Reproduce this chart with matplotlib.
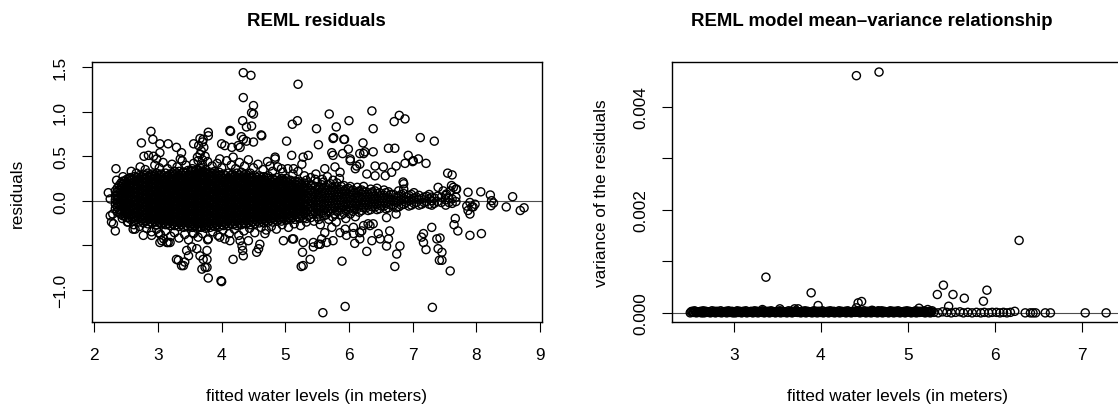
import matplotlib
matplotlib.use("Agg")
import matplotlib.pyplot as plt

plt.rcParams['font.family'] = ['Liberation Sans', 'DejaVu Sans']

##### Left panel: residuals vs fitted water levels

# dense core, one column per fitted value: (x, [residuals])
core_cols = [
    (2.33, [-0.09, -0.04, 0.01, 0.05, 0.11]),
    (2.39, [-0.14, -0.10, -0.05, -0.01, 0.03, 0.08, 0.12, 0.17]),
    (2.45, [-0.17, -0.12, -0.08, -0.03, 0.01, 0.05, 0.10, 0.14, 0.19, 0.22]),
    (2.51, [-0.19, -0.15, -0.10, -0.06, -0.02, 0.02, 0.07, 0.11, 0.15, 0.20, 0.24]),
    (2.57, [-0.21, -0.16, -0.12, -0.07, -0.03, 0.01, 0.06, 0.10, 0.14, 0.19, 0.23, 0.26]),
    (2.63, [-0.22, -0.18, -0.13, -0.09, -0.04, 0.00, 0.04, 0.09, 0.13, 0.17, 0.22, 0.27]),
    (2.70, [-0.24, -0.19, -0.15, -0.10, -0.06, -0.01, 0.03, 0.07, 0.12, 0.16, 0.21, 0.25, 0.28]),
    (2.77, [-0.25, -0.20, -0.16, -0.11, -0.07, -0.02, 0.02, 0.06, 0.11, 0.15, 0.19, 0.24, 0.29]),
    (2.84, [-0.26, -0.21, -0.17, -0.12, -0.08, -0.03, 0.01, 0.05, 0.10, 0.14, 0.18, 0.23, 0.27, 0.31]),
    (2.91, [-0.25, -0.21, -0.16, -0.12, -0.07, -0.03, 0.02, 0.06, 0.10, 0.15, 0.19, 0.24, 0.28, 0.30]),
    (2.98, [-0.27, -0.22, -0.18, -0.13, -0.09, -0.04, 0.00, 0.05, 0.09, 0.13, 0.18, 0.22, 0.26, 0.31]),
    (3.05, [-0.26, -0.22, -0.17, -0.13, -0.08, -0.04, 0.01, 0.05, 0.10, 0.14, 0.18, 0.23, 0.27, 0.30]),
    (3.12, [-0.27, -0.23, -0.18, -0.14, -0.09, -0.05, 0.00, 0.04, 0.08, 0.13, 0.17, 0.21, 0.26, 0.31]),
    (3.19, [-0.28, -0.23, -0.19, -0.14, -0.10, -0.05, -0.01, 0.03, 0.08, 0.12, 0.17, 0.21, 0.25, 0.30]),
    (3.26, [-0.28, -0.24, -0.19, -0.15, -0.10, -0.06, -0.01, 0.03, 0.07, 0.12, 0.16, 0.20, 0.25, 0.29, 0.33]),
    (3.33, [-0.29, -0.25, -0.20, -0.16, -0.11, -0.07, -0.02, 0.02, 0.07, 0.11, 0.16, 0.20, 0.24, 0.29, 0.33]),
    (3.40, [-0.30, -0.25, -0.21, -0.16, -0.12, -0.07, -0.03, 0.02, 0.06, 0.10, 0.15, 0.19, 0.24, 0.28, 0.32]),
    (3.47, [-0.29, -0.25, -0.20, -0.16, -0.11, -0.07, -0.02, 0.02, 0.07, 0.11, 0.15, 0.20, 0.24, 0.29, 0.34]),
    (3.54, [-0.30, -0.26, -0.21, -0.17, -0.12, -0.08, -0.03, 0.01, 0.06, 0.10, 0.15, 0.19, 0.23, 0.28, 0.33, 0.36]),
    (3.61, [-0.31, -0.26, -0.22, -0.17, -0.13, -0.08, -0.04, 0.01, 0.05, 0.09, 0.14, 0.18, 0.23, 0.27, 0.31, 0.35]),
    (3.68, [-0.30, -0.26, -0.21, -0.17, -0.12, -0.08, -0.03, 0.01, 0.06, 0.10, 0.14, 0.19, 0.23, 0.28, 0.32, 0.36]),
    (3.75, [-0.31, -0.27, -0.22, -0.18, -0.13, -0.09, -0.04, 0.00, 0.05, 0.09, 0.13, 0.18, 0.22, 0.27, 0.31, 0.35]),
    (3.82, [-0.30, -0.26, -0.21, -0.17, -0.12, -0.08, -0.03, 0.01, 0.06, 0.10, 0.14, 0.19, 0.23, 0.28, 0.32]),
    (3.89, [-0.29, -0.25, -0.20, -0.16, -0.11, -0.07, -0.02, 0.02, 0.07, 0.11, 0.15, 0.20, 0.24, 0.29, 0.33]),
    (3.96, [-0.29, -0.24, -0.20, -0.15, -0.11, -0.06, -0.02, 0.03, 0.07, 0.12, 0.16, 0.20, 0.25, 0.29, 0.32]),
    (4.03, [-0.28, -0.24, -0.19, -0.15, -0.10, -0.06, -0.01, 0.03, 0.08, 0.12, 0.16, 0.21, 0.25, 0.30]),
    (4.10, [-0.28, -0.23, -0.19, -0.14, -0.10, -0.05, -0.01, 0.04, 0.08, 0.12, 0.17, 0.21, 0.26, 0.31]),
    (4.17, [-0.27, -0.23, -0.18, -0.14, -0.09, -0.05, 0.00, 0.04, 0.09, 0.13, 0.17, 0.22, 0.26, 0.30]),
    (4.24, [-0.28, -0.23, -0.19, -0.14, -0.10, -0.05, -0.01, 0.04, 0.08, 0.13, 0.17, 0.21, 0.26, 0.31]),
    (4.31, [-0.27, -0.22, -0.18, -0.13, -0.09, -0.04, 0.00, 0.05, 0.09, 0.13, 0.18, 0.22, 0.27, 0.32]),
    (4.38, [-0.26, -0.22, -0.17, -0.13, -0.08, -0.04, 0.01, 0.05, 0.09, 0.14, 0.18, 0.23, 0.27, 0.30]),
    (4.45, [-0.27, -0.22, -0.18, -0.13, -0.09, -0.04, 0.00, 0.04, 0.09, 0.13, 0.18, 0.22, 0.26, 0.31]),
    (4.52, [-0.26, -0.21, -0.17, -0.12, -0.08, -0.03, 0.01, 0.05, 0.10, 0.14, 0.19, 0.23, 0.28]),
    (4.59, [-0.25, -0.21, -0.16, -0.12, -0.07, -0.03, 0.02, 0.06, 0.10, 0.15, 0.19, 0.24, 0.28]),
    (4.66, [-0.25, -0.20, -0.16, -0.11, -0.07, -0.02, 0.02, 0.07, 0.11, 0.15, 0.20, 0.24, 0.27]),
    (4.73, [-0.24, -0.20, -0.15, -0.11, -0.06, -0.02, 0.03, 0.07, 0.11, 0.16, 0.20, 0.25, 0.28]),
    (4.80, [-0.24, -0.19, -0.15, -0.10, -0.06, -0.01, 0.03, 0.07, 0.12, 0.16, 0.21, 0.25]),
    (4.87, [-0.23, -0.19, -0.14, -0.10, -0.05, -0.01, 0.04, 0.08, 0.12, 0.17, 0.21, 0.26]),
    (4.94, [-0.23, -0.18, -0.14, -0.09, -0.05, 0.00, 0.04, 0.08, 0.13, 0.17, 0.22, 0.25]),
    (5.01, [-0.22, -0.18, -0.13, -0.09, -0.04, 0.00, 0.05, 0.09, 0.13, 0.18, 0.22, 0.25]),
    (5.08, [-0.21, -0.17, -0.12, -0.08, -0.04, 0.01, 0.05, 0.09, 0.14, 0.18, 0.23]),
    (5.15, [-0.21, -0.16, -0.12, -0.07, -0.03, 0.01, 0.06, 0.10, 0.14, 0.19, 0.22]),
    (5.22, [-0.20, -0.15, -0.11, -0.07, -0.02, 0.02, 0.06, 0.10, 0.15, 0.19, 0.22]),
    (5.29, [-0.19, -0.14, -0.10, -0.06, -0.02, 0.03, 0.07, 0.11, 0.15, 0.20]),
]

# more of the core, lying between the columns above
core_cols_2 = [
    (2.36, [-0.12, -0.07, -0.03, 0.01, 0.06, 0.10, 0.14]),
    (2.42, [-0.15, -0.11, -0.06, -0.02, 0.03, 0.07, 0.12, 0.16, 0.20]),
    (2.48, [-0.17, -0.13, -0.08, -0.04, 0.00, 0.05, 0.09, 0.13, 0.17, 0.22]),
    (2.54, [-0.19, -0.14, -0.10, -0.05, -0.01, 0.04, 0.08, 0.12, 0.17, 0.21, 0.25]),
    (2.60, [-0.20, -0.16, -0.11, -0.07, -0.02, 0.02, 0.07, 0.11, 0.16, 0.20, 0.24]),
    (2.67, [-0.21, -0.17, -0.12, -0.08, -0.03, 0.01, 0.06, 0.10, 0.15, 0.19, 0.23, 0.26]),
    (2.74, [-0.22, -0.18, -0.13, -0.09, -0.04, 0.00, 0.05, 0.09, 0.13, 0.18, 0.22, 0.27]),
    (2.81, [-0.23, -0.19, -0.14, -0.10, -0.05, -0.01, 0.04, 0.08, 0.12, 0.17, 0.21, 0.25, 0.29]),
    (2.88, [-0.24, -0.19, -0.15, -0.10, -0.06, -0.01, 0.03, 0.08, 0.12, 0.17, 0.21, 0.26, 0.29]),
    (2.95, [-0.24, -0.20, -0.15, -0.11, -0.06, -0.02, 0.03, 0.07, 0.12, 0.16, 0.20, 0.25, 0.29]),
    (3.02, [-0.25, -0.20, -0.16, -0.11, -0.07, -0.02, 0.02, 0.07, 0.11, 0.16, 0.20, 0.24, 0.29]),
    (3.09, [-0.25, -0.21, -0.16, -0.12, -0.07, -0.03, 0.02, 0.06, 0.11, 0.15, 0.19, 0.24, 0.28]),
    (3.16, [-0.26, -0.21, -0.17, -0.12, -0.08, -0.03, 0.01, 0.06, 0.10, 0.15, 0.19, 0.23, 0.28]),
    (3.23, [-0.26, -0.22, -0.17, -0.13, -0.08, -0.04, 0.01, 0.05, 0.10, 0.14, 0.18, 0.23, 0.27, 0.31]),
    (3.30, [-0.27, -0.22, -0.18, -0.13, -0.09, -0.04, 0.00, 0.05, 0.09, 0.14, 0.18, 0.22, 0.27, 0.31]),
    (3.37, [-0.27, -0.23, -0.18, -0.14, -0.09, -0.05, 0.00, 0.04, 0.09, 0.13, 0.17, 0.22, 0.26, 0.30]),
    (3.44, [-0.28, -0.23, -0.19, -0.14, -0.10, -0.05, -0.01, 0.04, 0.08, 0.13, 0.17, 0.21, 0.26, 0.31]),
    (3.51, [-0.28, -0.24, -0.19, -0.15, -0.10, -0.06, -0.01, 0.03, 0.08, 0.12, 0.17, 0.21, 0.25, 0.30, 0.34]),
    (3.58, [-0.29, -0.24, -0.20, -0.15, -0.11, -0.06, -0.02, 0.03, 0.07, 0.12, 0.16, 0.21, 0.25, 0.29, 0.33]),
    (3.65, [-0.29, -0.24, -0.20, -0.15, -0.11, -0.06, -0.02, 0.03, 0.07, 0.12, 0.16, 0.21, 0.25, 0.30, 0.34]),
    (3.72, [-0.29, -0.25, -0.20, -0.16, -0.11, -0.07, -0.02, 0.02, 0.07, 0.11, 0.16, 0.20, 0.25, 0.29, 0.33]),
    (3.79, [-0.28, -0.24, -0.19, -0.15, -0.10, -0.06, -0.01, 0.03, 0.08, 0.12, 0.17, 0.21, 0.25, 0.30]),
    (3.86, [-0.28, -0.23, -0.19, -0.14, -0.10, -0.05, -0.01, 0.04, 0.08, 0.13, 0.17, 0.22, 0.26, 0.31]),
    (3.93, [-0.27, -0.23, -0.18, -0.14, -0.09, -0.05, 0.00, 0.04, 0.09, 0.13, 0.18, 0.22, 0.27, 0.30]),
    (4.00, [-0.27, -0.22, -0.18, -0.13, -0.09, -0.04, 0.00, 0.05, 0.09, 0.14, 0.18, 0.23, 0.27]),
    (4.07, [-0.26, -0.22, -0.17, -0.13, -0.08, -0.04, 0.01, 0.05, 0.10, 0.14, 0.19, 0.23, 0.28]),
    (4.14, [-0.26, -0.21, -0.17, -0.12, -0.08, -0.03, 0.01, 0.06, 0.10, 0.15, 0.19, 0.24, 0.28]),
    (4.21, [-0.26, -0.21, -0.17, -0.12, -0.08, -0.03, 0.01, 0.06, 0.10, 0.15, 0.19, 0.24, 0.28]),
    (4.28, [-0.25, -0.21, -0.16, -0.12, -0.07, -0.03, 0.02, 0.06, 0.11, 0.15, 0.20, 0.24, 0.29]),
    (4.35, [-0.25, -0.20, -0.16, -0.11, -0.07, -0.02, 0.02, 0.07, 0.11, 0.16, 0.20, 0.25, 0.29]),
    (4.42, [-0.25, -0.20, -0.16, -0.11, -0.07, -0.02, 0.02, 0.07, 0.11, 0.16, 0.20, 0.24, 0.28]),
    (4.49, [-0.24, -0.19, -0.15, -0.10, -0.06, -0.01, 0.03, 0.08, 0.12, 0.17, 0.21, 0.26]),
    (4.56, [-0.23, -0.19, -0.14, -0.10, -0.05, -0.01, 0.04, 0.08, 0.13, 0.17, 0.21, 0.26]),
    (4.63, [-0.23, -0.18, -0.14, -0.09, -0.05, 0.00, 0.04, 0.09, 0.13, 0.18, 0.22, 0.26]),
    (4.70, [-0.22, -0.18, -0.13, -0.09, -0.04, 0.00, 0.05, 0.09, 0.14, 0.18, 0.22, 0.26]),
    (4.77, [-0.22, -0.17, -0.13, -0.08, -0.04, 0.01, 0.05, 0.10, 0.14, 0.18, 0.23]),
    (4.84, [-0.21, -0.17, -0.12, -0.08, -0.03, 0.01, 0.06, 0.10, 0.14, 0.19, 0.23]),
    (4.91, [-0.21, -0.16, -0.12, -0.07, -0.03, 0.02, 0.06, 0.10, 0.15, 0.19, 0.23]),
    (4.98, [-0.20, -0.16, -0.11, -0.07, -0.02, 0.02, 0.07, 0.11, 0.15, 0.20, 0.23]),
    (5.05, [-0.19, -0.15, -0.10, -0.06, -0.02, 0.03, 0.07, 0.11, 0.16, 0.20]),
    (5.12, [-0.19, -0.14, -0.10, -0.05, -0.01, 0.03, 0.08, 0.12, 0.16, 0.20]),
    (5.19, [-0.18, -0.13, -0.09, -0.05, 0.00, 0.04, 0.08, 0.13, 0.17, 0.21]),
    (5.26, [-0.17, -0.12, -0.08, -0.04, 0.01, 0.05, 0.09, 0.13, 0.18]),
]

# thinning band towards high water levels
tail_cols = [
    (5.36, [-0.17, -0.10, -0.04, 0.02, 0.08, 0.14, 0.20]),
    (5.43, [-0.15, -0.08, -0.02, 0.04, 0.10, 0.17]),
    (5.50, [-0.18, -0.11, -0.05, 0.01, 0.07, 0.13, 0.21]),
    (5.57, [-0.14, -0.07, -0.01, 0.05, 0.11, 0.18]),
    (5.64, [-0.16, -0.09, -0.03, 0.03, 0.09, 0.15]),
    (5.71, [-0.12, -0.06, 0.00, 0.06, 0.12, 0.19]),
    (5.78, [-0.15, -0.08, -0.02, 0.04, 0.10, 0.16]),
    (5.85, [-0.11, -0.05, 0.01, 0.07, 0.13]),
    (5.92, [-0.14, -0.07, -0.01, 0.05, 0.11, 0.17]),
    (5.99, [-0.10, -0.04, 0.02, 0.08, 0.14]),
    (6.06, [-0.12, -0.06, 0.00, 0.06, 0.12]),
    (6.13, [-0.09, -0.03, 0.03, 0.09, 0.15]),
    (6.20, [-0.11, -0.05, 0.01, 0.07, 0.12]),
    (6.27, [-0.08, -0.02, 0.04, 0.10]),
    (6.34, [-0.10, -0.04, 0.02, 0.08, 0.13]),
    (6.41, [-0.07, -0.01, 0.05, 0.11]),
    (6.48, [-0.09, -0.03, 0.03, 0.09]),
    (6.55, [-0.06, 0.00, 0.06, 0.12]),
    (6.62, [-0.08, -0.02, 0.04, 0.10]),
    (6.70, [-0.05, 0.01, 0.07]),
    (6.78, [-0.07, -0.01, 0.05, 0.11]),
    (6.86, [-0.04, 0.02, 0.08]),
    (6.94, [-0.06, 0.00, 0.06]),
    (7.02, [-0.03, 0.03, 0.09]),
    (7.10, [-0.05, 0.01, 0.06]),
    (7.18, [-0.02, 0.04]),
    (7.26, [-0.04, 0.02, 0.07]),
    (7.34, [-0.03, 0.03]),
    (7.45, [-0.02, 0.04]),
    (7.52, [-0.05, 0.01, 0.06]),
    (7.62, [-0.03, 0.02]),
]

tail_cols_2 = [
    (5.33, [-0.20, -0.13, -0.07, -0.01, 0.05, 0.11, 0.17, 0.23]),
    (5.40, [-0.19, -0.12, -0.06, 0.00, 0.06, 0.12, 0.18]),
    (5.47, [-0.13, -0.07, -0.01, 0.04, 0.10, 0.16, 0.24]),
    (5.53, [-0.21, -0.15, -0.08, -0.02, 0.04, 0.09, 0.15]),
    (5.60, [-0.17, -0.11, -0.04, 0.02, 0.08, 0.14, 0.21]),
    (5.67, [-0.12, -0.06, 0.00, 0.06, 0.12, 0.18]),
    (5.74, [-0.18, -0.09, -0.03, 0.03, 0.09, 0.15]),
    (5.81, [-0.12, -0.05, 0.01, 0.07, 0.13, 0.20]),
    (5.88, [-0.16, -0.08, -0.02, 0.04, 0.10, 0.16]),
    (5.95, [-0.11, -0.04, 0.02, 0.08, 0.13]),
    (6.02, [-0.15, -0.08, -0.02, 0.04, 0.10, 0.16]),
    (6.09, [-0.09, -0.03, 0.03, 0.09]),
    (6.16, [-0.13, -0.06, 0.00, 0.05, 0.11]),
    (6.23, [-0.08, -0.02, 0.04, 0.10, 0.16]),
    (6.30, [-0.11, -0.05, 0.01, 0.07]),
    (6.37, [-0.07, -0.01, 0.05, 0.10]),
    (6.44, [-0.10, -0.04, 0.02, 0.08, 0.14]),
    (6.51, [-0.06, 0.00, 0.06]),
    (6.58, [-0.09, -0.03, 0.03, 0.09]),
    (6.66, [-0.05, 0.01, 0.07]),
    (6.74, [-0.08, -0.02, 0.04]),
    (6.82, [-0.05, 0.01, 0.07]),
    (6.90, [-0.02, 0.04]),
    (6.98, [-0.05, 0.01, 0.07]),
    (7.06, [-0.02, 0.04]),
    (7.14, [-0.04, 0.02]),
    (7.22, [-0.01, 0.05]),
    (7.30, [-0.05, 0.00, 0.04]),
    (7.39, [-0.01, 0.05]),
    (7.57, [-0.02, 0.03]),
    (7.68, [-0.01, 0.04]),
]

# points scattered just outside the core
fringe_pts = [
    (2.45, 0.27), (2.58, 0.33), (2.66, 0.31), (2.72, 0.38), (2.80, 0.35), (2.95, 0.40),
    (3.02, 0.37), (3.08, 0.43), (3.15, 0.36), (3.22, 0.41), (3.30, 0.38), (3.38, 0.45),
    (3.44, 0.40), (3.56, 0.42), (3.62, 0.49), (3.70, 0.40), (3.78, 0.44), (3.85, 0.39),
    (3.93, 0.42), (4.00, 0.37), (4.08, 0.45), (4.15, 0.40), (4.22, 0.36), (4.28, 0.43),
    (4.36, 0.39), (4.42, 0.46), (4.50, 0.37), (4.57, 0.41), (4.65, 0.35), (4.72, 0.44),
    (4.80, 0.33), (4.88, 0.38), (4.96, 0.32), (5.04, 0.36), (5.12, 0.30), (5.20, 0.33),
    (5.30, 0.28), (5.40, 0.26), (5.48, 0.30), (5.58, 0.24), (5.66, 0.27), (5.75, 0.23),
    (5.85, 0.25),
    (2.44, -0.20), (2.52, -0.24), (2.62, -0.27), (2.71, -0.29), (2.82, -0.31), (2.90, -0.35),
    (2.98, -0.32), (3.04, -0.38), (3.12, -0.34), (3.20, -0.40), (3.26, -0.36), (3.33, -0.42),
    (3.42, -0.38), (3.48, -0.44), (3.55, -0.36), (3.63, -0.41), (3.70, -0.37), (3.78, -0.44),
    (3.86, -0.35), (3.94, -0.39), (4.02, -0.33), (4.12, -0.37), (4.20, -0.32), (4.27, -0.39),
    (4.35, -0.34), (4.44, -0.31), (4.52, -0.36), (4.62, -0.30), (4.70, -0.33), (4.78, -0.29),
    (4.86, -0.32), (4.95, -0.27), (5.05, -0.30), (5.14, -0.26), (5.24, -0.28), (5.33, -0.24),
    (5.45, -0.23), (5.55, -0.27), (5.68, -0.21), (5.80, -0.24), (5.95, -0.20), (6.10, -0.18),
]

# large positive residuals
upper_pts = [
    (2.89, 0.78), (2.74, 0.65), (2.92, 0.69), (2.78, 0.50), (2.85, 0.51), (2.93, 0.50),
    (3.03, 0.64), (3.16, 0.64), (3.29, 0.60), (3.37, 0.54), (3.35, 0.47), (3.03, 0.54),
    (2.98, 0.47), (2.34, 0.36), (2.35, 0.23), (2.22, 0.09), (2.25, 0.02),
    (3.63, 0.45), (3.71, 0.69), (3.66, 0.70), (3.70, 0.66), (3.64, 0.62), (3.72, 0.60),
    (3.68, 0.56), (3.66, 0.52), (3.74, 0.50), (3.70, 0.46), (3.79, 0.77), (3.56, 0.64),
    (3.79, 0.73),
    (4.34, 1.44), (4.46, 1.41), (5.20, 1.31), (4.34, 1.16), (4.50, 1.07), (4.47, 0.99),
    (4.33, 0.90), (4.47, 0.84), (4.62, 0.74), (4.50, 0.66), (4.34, 0.69), (4.29, 0.60),
    (4.39, 0.67), (4.31, 0.72), (5.11, 0.86), (5.19, 0.90), (5.02, 0.67), (5.49, 0.81),
    (5.52, 0.63), (4.13, 0.79), (4.05, 0.62), (4.16, 0.60), (4.26, 0.62), (4.00, 0.64),
    (4.14, 0.78), (4.18, 0.49), (3.97, 0.47), (4.63, 0.73), (4.39, 0.83), (4.50, 0.975),
    (4.84, 0.49), (4.84, 0.47), (5.10, 0.51), (5.28, 0.49), (5.36, 0.51), (4.76, 0.39),
    (4.94, 0.36), (5.13, 0.36), (5.26, 0.41),
    (5.69, 0.975), (6.36, 1.01), (6.00, 0.90), (6.71, 0.89), (6.79, 0.96), (6.88, 0.92),
    (5.80, 0.83), (6.38, 0.81), (5.75, 0.70), (5.92, 0.69), (7.12, 0.71), (7.34, 0.67),
    (6.22, 0.65), (6.38, 0.55), (6.23, 0.53), (5.73, 0.54), (5.75, 0.51), (5.90, 0.53),
    (5.99, 0.58), (6.62, 0.59), (6.72, 0.59), (6.93, 0.51), (7.01, 0.45), (7.09, 0.47),
    (7.21, 0.42), (6.88, 0.42), (6.02, 0.47), (6.12, 0.39), (6.17, 0.41), (6.10, 0.36),
    (5.62, 0.36), (5.78, 0.38), (5.86, 0.32), (6.28, 0.30), (6.41, 0.28), (6.54, 0.38),
    (6.67, 0.32), (6.74, 0.39), (6.86, 0.19), (6.86, 0.13), (5.76, 0.71), (5.93, 0.69),
    (6.25, 0.55), (6.17, 0.53), (6.57, 0.28), (6.85, 0.21), (7.00, 0.44), (6.41, 0.39),
    (6.02, 0.45),
    (7.55, 0.31), (7.62, 0.29), (7.64, 0.15), (7.69, 0.13), (7.59, 0.11), (7.40, 0.15),
    (7.48, 0.11), (7.53, 0.075), (7.87, 0.095), (7.90, -0.02), (7.85, -0.06), (7.93, -0.07),
    (7.98, -0.04), (7.87, -0.11), (7.90, -0.15), (7.95, -0.07), (8.07, 0.10), (8.22, 0.064),
    (8.24, 0.0), (8.27, -0.026), (8.23, -0.056), (8.47, -0.07), (8.57, 0.045), (8.69, -0.11),
    (8.75, -0.08), (7.61, 0.17), (7.68, 0.13),
]

# large negative residuals
lower_pts = [
    (7.67, -0.20), (7.65, -0.27), (7.71, -0.34), (7.90, -0.39), (8.08, -0.37), (7.38, -0.43),
    (7.43, -0.42), (7.40, -0.54), (7.46, -0.58), (7.46, -0.67), (7.59, -0.79), (7.42, -0.67),
    (7.17, -0.37), (7.14, -0.41), (7.17, -0.47), (7.21, -0.55), (7.30, -0.30), (7.31, -1.20),
    (5.94, -1.19), (5.59, -1.26), (5.89, -0.68), (6.72, -0.74), (5.25, -0.74),
    (6.28, -0.57), (6.36, -0.45), (6.46, -0.37), (6.49, -0.43), (6.62, -0.43), (6.64, -0.34),
    (6.75, -0.60), (6.80, -0.51), (6.59, -0.51), (6.09, -0.48), (6.17, -0.36),
    (6.17, -0.43), (6.20, -0.34), (6.07, -0.37), (5.96, -0.39), (5.86, -0.36), (5.75, -0.45),
    (5.65, -0.47), (5.62, -0.36), (5.73, -0.30), (5.94, -0.32), (6.07, -0.30), (6.30, -0.26),
    (6.38, -0.26), (6.23, -0.28), (6.59, -0.19), (6.74, -0.15), (6.33, -0.28),
    (5.39, -0.66), (5.27, -0.58), (5.44, -0.52), (5.44, -0.47), (5.55, -0.49), (5.28, -0.47),
    (5.13, -0.43), (4.97, -0.45), (5.11, -0.43), (5.28, -0.73), (5.52, -0.49), (5.57, -0.43),
    (4.18, -0.66), (3.99, -0.90), (3.79, -0.87), (3.77, -0.75), (3.77, -0.66), (3.77, -0.56),
    (4.34, -0.62), (4.33, -0.56), (4.32, -0.51), (4.55, -0.58), (4.58, -0.54), (4.60, -0.49),
    (4.05, -0.43), (4.13, -0.45), (4.29, -0.45), (4.42, -0.45), (4.68, -0.37),
    (3.29, -0.66), (3.37, -0.73), (3.42, -0.69), (3.48, -0.62), (3.61, -0.54), (3.66, -0.62),
    (3.71, -0.66), (3.69, -0.77), (3.74, -0.75), (3.40, -0.73), (3.32, -0.67), (3.45, -0.56),
    (3.53, -0.52), (4.00, -0.91),
    (3.97, -0.41), (3.79, -0.43), (3.56, -0.37), (3.19, -0.47), (3.01, -0.36), (2.90, -0.39),
    (2.77, -0.39), (2.61, -0.32), (2.53, -0.24), (2.33, -0.34), (2.27, -0.24), (2.25, -0.17),
    (3.03, -0.47), (3.09, -0.43), (3.14, -0.47), (3.06, -0.45), (3.16, -0.47), (2.64, -0.32),
    (2.29, -0.15), (2.30, -0.26),
]

##### Right panel: variance of the residuals vs fitted water levels

var_band_x = [2.50, 2.53, 2.57, 2.60, 2.63, 2.66, 2.70, 2.73, 2.76, 2.79, 2.83, 2.86, 2.89,
              2.92, 2.96, 2.99, 3.02, 3.05, 3.09, 3.12, 3.15, 3.18, 3.22, 3.25, 3.28, 3.31,
              3.35, 3.38, 3.41, 3.44, 3.48, 3.51, 3.54, 3.57, 3.61, 3.64, 3.67, 3.70, 3.74,
              3.77, 3.80, 3.83, 3.87, 3.90, 3.93, 3.96, 4.00, 4.03, 4.06, 4.09, 4.13, 4.16,
              4.19, 4.22, 4.26, 4.29, 4.32, 4.35, 4.39, 4.42, 4.45, 4.48, 4.52, 4.55, 4.58,
              4.61, 4.65, 4.68, 4.71, 4.74, 4.78, 4.81, 4.84, 4.87, 4.91, 4.94, 4.97, 5.00,
              5.04, 5.07, 5.10, 5.13, 5.17, 5.20, 5.23, 5.26, 5.30, 5.35, 5.40, 5.45, 5.50,
              5.55, 5.60, 5.64, 5.69, 5.74, 5.79, 5.84, 5.88, 5.93, 5.97]
var_band_y = [0.00000, 0.00001, 0.00000, 0.00001, 0.00000, 0.00000, 0.00002, 0.00000, 0.00001,
              0.00000, 0.00001, 0.00000, 0.00002, 0.00000, 0.00001, 0.00000, 0.00000, 0.00001,
              0.00000, 0.00002, 0.00000, 0.00001, 0.00000, 0.00001, 0.00000, 0.00002, 0.00000,
              0.00001, 0.00000, 0.00001, 0.00000, 0.00002, 0.00000, 0.00001, 0.00000, 0.00001,
              0.00000, 0.00002, 0.00001, 0.00000, 0.00001, 0.00000, 0.00002, 0.00000, 0.00001,
              0.00000, 0.00001, 0.00000, 0.00002, 0.00000, 0.00001, 0.00000, 0.00001, 0.00000,
              0.00002, 0.00000, 0.00001, 0.00000, 0.00001, 0.00002, 0.00000, 0.00001, 0.00000,
              0.00001, 0.00000, 0.00002, 0.00000, 0.00001, 0.00000, 0.00001, 0.00000, 0.00002,
              0.00000, 0.00001, 0.00000, 0.00001, 0.00000, 0.00002, 0.00000, 0.00001, 0.00000,
              0.00001, 0.00002, 0.00000, 0.00001, 0.00000, 0.00001, 0.00000, 0.00002, 0.00001,
              0.00000, 0.00001, 0.00002, 0.00000, 0.00001, 0.00000, 0.00001, 0.00000, 0.00001,
              0.00000, 0.00001]
# second row of the band, between the fitted values above
var_band2_x = [2.52, 2.55, 2.58, 2.62, 2.65, 2.68, 2.71, 2.75, 2.78, 2.81, 2.85, 2.88, 2.91,
               2.94, 2.98, 3.01, 3.04, 3.07, 3.11, 3.14, 3.17, 3.20, 3.24, 3.27, 3.30, 3.33,
               3.37, 3.40, 3.43, 3.46, 3.50, 3.53, 3.56, 3.59, 3.63, 3.66, 3.69, 3.72, 3.76,
               3.79, 3.82, 3.85, 3.89, 3.92, 3.95, 3.98, 4.02, 4.05, 4.08, 4.11, 4.15, 4.18,
               4.21, 4.24, 4.28, 4.31, 4.34, 4.37, 4.41, 4.44, 4.47, 4.50, 4.54, 4.57, 4.60,
               4.63, 4.67, 4.70, 4.73, 4.76, 4.80, 4.83, 4.86, 4.89, 4.93, 4.96, 4.99, 5.02,
               5.06, 5.09, 5.12, 5.15, 5.19, 5.22, 5.25, 5.28]
var_band2_y = [0.00003, 0.00004, 0.00002, 0.00003, 0.00004, 0.00003, 0.00002, 0.00004, 0.00003,
               0.00003, 0.00004, 0.00002, 0.00003, 0.00004, 0.00003, 0.00002, 0.00004, 0.00003,
               0.00003, 0.00004, 0.00002, 0.00003, 0.00004, 0.00003, 0.00002, 0.00004, 0.00003,
               0.00003, 0.00004, 0.00002, 0.00003, 0.00004, 0.00003, 0.00002, 0.00004, 0.00003,
               0.00003, 0.00004, 0.00002, 0.00003, 0.00004, 0.00003, 0.00002, 0.00004, 0.00003,
               0.00003, 0.00004, 0.00002, 0.00003, 0.00004, 0.00003, 0.00002, 0.00004, 0.00003,
               0.00003, 0.00004, 0.00002, 0.00003, 0.00004, 0.00003, 0.00002, 0.00004, 0.00003,
               0.00003, 0.00004, 0.00002, 0.00003, 0.00004, 0.00003, 0.00002, 0.00004, 0.00003,
               0.00003, 0.00004, 0.00002, 0.00003, 0.00004, 0.00003, 0.00002, 0.00004, 0.00003,
               0.00003, 0.00004, 0.00002, 0.00003, 0.00004]
# third row of the band: (fitted value, variance)
var_band3 = [
    (2.51, 0.00002), (2.54, 0.00001), (2.56, 0.00002), (2.59, 0.00001), (2.61, 0.00002),
    (2.64, 0.00001), (2.67, 0.00002), (2.69, 0.00001), (2.72, 0.00002), (2.74, 0.00001),
    (2.77, 0.00002), (2.80, 0.00001), (2.82, 0.00002), (2.84, 0.00001), (2.87, 0.00002),
    (2.90, 0.00001), (2.93, 0.00002), (2.95, 0.00001), (2.97, 0.00002), (3.00, 0.00001),
    (3.03, 0.00002), (3.06, 0.00001), (3.08, 0.00002), (3.10, 0.00001), (3.13, 0.00002),
    (3.16, 0.00001), (3.19, 0.00002), (3.21, 0.00001), (3.23, 0.00002), (3.26, 0.00001),
    (3.29, 0.00002), (3.32, 0.00001), (3.34, 0.00002), (3.36, 0.00001), (3.39, 0.00002),
    (3.42, 0.00001), (3.45, 0.00002), (3.47, 0.00001), (3.49, 0.00002), (3.52, 0.00001),
    (3.55, 0.00002), (3.58, 0.00001), (3.60, 0.00002), (3.62, 0.00001), (3.65, 0.00002),
    (3.68, 0.00001), (3.71, 0.00002), (3.73, 0.00001), (3.75, 0.00002), (3.78, 0.00001),
    (3.81, 0.00002), (3.84, 0.00001), (3.86, 0.00002), (3.88, 0.00001), (3.91, 0.00002),
    (3.94, 0.00001), (3.97, 0.00002), (3.99, 0.00001), (4.01, 0.00002), (4.04, 0.00001),
    (4.07, 0.00002), (4.10, 0.00001), (4.12, 0.00002), (4.14, 0.00001), (4.17, 0.00002),
    (4.20, 0.00001), (4.23, 0.00002), (4.25, 0.00001), (4.27, 0.00002), (4.30, 0.00001),
    (4.33, 0.00002), (4.36, 0.00001), (4.38, 0.00002), (4.40, 0.00001), (4.43, 0.00002),
    (4.46, 0.00001), (4.49, 0.00002), (4.51, 0.00001), (4.53, 0.00002), (4.56, 0.00001),
    (4.59, 0.00002), (4.62, 0.00001), (4.64, 0.00002), (4.66, 0.00001), (4.69, 0.00002),
    (4.72, 0.00001), (4.75, 0.00002), (4.77, 0.00001), (4.79, 0.00002), (4.82, 0.00001),
    (4.85, 0.00002), (4.88, 0.00001), (4.90, 0.00002), (4.92, 0.00001), (4.95, 0.00002),
    (4.98, 0.00001), (5.01, 0.00002), (5.03, 0.00001), (5.05, 0.00002), (5.08, 0.00001),
    (5.11, 0.00002), (5.14, 0.00001), (5.16, 0.00002), (5.18, 0.00001), (5.21, 0.00002),
    (5.24, 0.00001), (5.27, 0.00002),
]
var_tail_x = [6.02, 6.06, 6.10, 6.14, 6.18, 6.23, 6.35, 6.41, 6.44, 6.47, 6.58, 6.64, 7.04, 7.28]
var_tail_y = [0.00001, 0.00000, 0.00001, 0.00000, 0.00001, 0.00003, 0.00000, 0.00000,
              0.00000, 0.00000, 0.00000, 0.00000, 0.00000, 0.00000]
var_out_x = [4.41, 4.67, 6.28, 3.37, 3.89, 3.97, 5.41, 5.34, 5.52, 5.65, 5.91, 5.87,
             4.47, 4.41, 4.43, 5.47, 5.13, 5.23, 4.59, 4.66, 3.33, 3.53, 3.70, 3.74]
var_out_y = [0.00460, 0.00467, 0.001405, 0.000692, 0.000389, 0.000142, 0.000537, 0.000356,
             0.000356, 0.000284, 0.000440, 0.000226, 0.000220, 0.000097, 0.000194, 0.000128,
             0.000090, 0.000064, 0.000050, 0.000040, 0.000064, 0.000078, 0.000078, 0.000078]


def flatten_cols(cols):
    xs, ys = [], []
    for x, yl in cols:
        for y in yl:
            xs.append(x)
            ys.append(y)
    return xs, ys


res_x, res_y = [], []
for part in [core_cols, core_cols_2, tail_cols, tail_cols_2]:
    px, py = flatten_cols(part)
    res_x += px
    res_y += py
for part in [fringe_pts, upper_pts, lower_pts]:
    res_x += [p[0] for p in part]
    res_y += [p[1] for p in part]

var_x = var_band_x + var_band2_x + [p[0] for p in var_band3] + var_tail_x + var_out_x
var_y = var_band_y + var_band2_y + [p[1] for p in var_band3] + var_tail_y + var_out_y

##### Figure

W, H = 1118, 410
fig = plt.figure(figsize=(W / 100, H / 100), dpi=100)
ax1 = fig.add_axes([91.7 / W, 1 - 323.3 / H, 450 / W, 260 / H])
ax2 = fig.add_axes([672.3 / W, 1 - 323.3 / H, 450 / W, 260 / H])

pt_style = dict(s=34, facecolors='none', edgecolors='black', linewidths=1.0, zorder=3)
fs = 12.4

ax1.scatter(res_x, res_y, **pt_style)
ax1.axhline(0, color='#4d4d4d', lw=0.8, zorder=2)
ax1.set_xlim(1.959, 9.027)
ax1.set_ylim(-1.368, 1.557)
ax1.set_xticks([2, 3, 4, 5, 6, 7, 8, 9])
ax1.set_xticklabels(['2', '3', '4', '5', '6', '7', '8', '9'])
ax1.set_yticks([-1.0, -0.5, 0.0, 0.5, 1.0, 1.5])
ax1.set_yticklabels(['\u22121.0', '', '0.0', '0.5', '1.0', '1.5'], rotation=90, va='center')

ax2.scatter(var_x, var_y, **pt_style)
ax2.axhline(0, color='#4d4d4d', lw=0.8, zorder=2)
ax2.set_xlim(2.294, 7.466)
ax2.set_ylim(-0.000183, 0.004859)
ax2.set_xticks([3, 4, 5, 6, 7])
ax2.set_xticklabels(['3', '4', '5', '6', '7'])
ax2.set_yticks([0.0, 0.001, 0.002, 0.003, 0.004])
ax2.set_yticklabels(['0.000', '', '0.002', '', '0.004'], rotation=90, va='center')

for ax in [ax1, ax2]:
    for sp in ax.spines.values():
        sp.set_linewidth(1.0)
    ax.tick_params(axis='both', direction='out', length=7, width=0.8, labelsize=fs)
    ax.tick_params(axis='x', pad=11)
    ax.tick_params(axis='y', pad=10)

fig.text(316.7 / W, 1 - 21 / H, 'REML residuals', ha='center', va='center',
         fontsize=13.4, fontweight='bold')
fig.text(871.5 / W, 1 - 21 / H, 'REML model mean\u2013variance relationship', ha='center',
         va='center', fontsize=13.4, fontweight='bold')
fig.text(316.7 / W, 1 - 397 / H, 'fitted water levels (in meters)', ha='center', va='center',
         fontsize=fs)
fig.text(897.3 / W, 1 - 397 / H, 'fitted water levels (in meters)', ha='center', va='center',
         fontsize=fs)
fig.text(17.5 / W, 1 - 193 / H, 'residuals', ha='center', va='center', rotation=90, fontsize=fs)
fig.text(601 / W, 1 - 193 / H, 'variance of the residuals', ha='center', va='center',
         rotation=90, fontsize=fs)

fig.savefig('out.png', dpi=100)
